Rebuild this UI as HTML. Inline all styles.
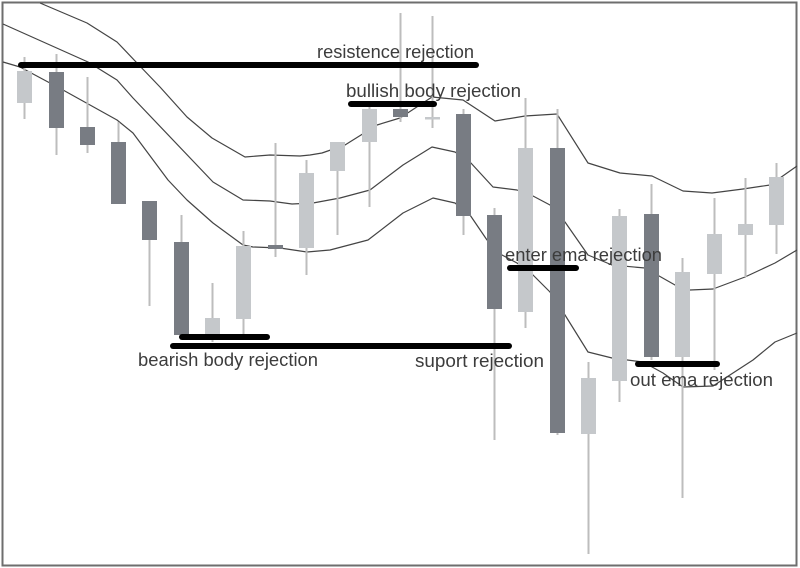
<!DOCTYPE html>
<html>
<head>
<meta charset="utf-8">
<style>
  html, body { margin:0; padding:0; background:#fff; }
  body { width:800px; height:568px; overflow:hidden; }
  svg { display:block; }
  text { font-family: "Liberation Sans", sans-serif; font-size:18px; fill:#3c3c3c; }
</style>
</head>
<body>
<svg width="800" height="568" viewBox="0 0 800 568" xmlns="http://www.w3.org/2000/svg">
  <rect x="0" y="0" width="800" height="568" fill="#fff"/>
  <rect x="2.5" y="2.5" width="794" height="563" fill="none" stroke="#6e6e6e" stroke-width="2"/>

  <!-- EMA lines -->
  <g fill="none" stroke="#444" stroke-width="1.2" stroke-linejoin="round">
    <polyline points="40,3 87,23 117,42 137,63 160,87 187,117 212,138 245,157 270,155 300,156 310,155 322,153 345,145 377,125 400,118 432,97 463,100 495,121 525,116 557,114 588,163 620,173 652,176 683,191 712,193 743,189 770,185 797,166"/>
    <polyline points="3,24 88,62 117,80 133,98 213,182 243,200 270,201 292,204 313,203 340,198 370,190 403,165 432,147 455,152 470,162 493,187 517,190 533,196 550,205 565,222 588,255 612,265 645,268 675,285 690,290 713,289 745,277 775,263 797,250"/>
    <polyline points="3,62 20,67 63,90 117,120 133,133 168,180 187,200 213,223 243,245 253,247 280,248 307,252 330,250 368,240 403,213 433,198 455,203 470,215 487,240 502,255 517,263 533,275 550,292 565,315 588,352 612,358 643,362 663,373 683,387 713,386 753,360 775,342 797,333"/>
  </g>

  <!-- wicks -->
  <g stroke="#bdbdbd" stroke-width="2">
    <line x1="24.5" y1="57" x2="24.5" y2="119"/>
    <line x1="56.5" y1="54" x2="56.5" y2="155"/>
    <line x1="87.5" y1="77" x2="87.5" y2="153"/>
    <line x1="118.5" y1="122" x2="118.5" y2="204"/>
    <line x1="149.5" y1="201" x2="149.5" y2="306"/>
    <line x1="181.5" y1="215" x2="181.5" y2="335"/>
    <line x1="212.5" y1="283" x2="212.5" y2="342"/>
    <line x1="243.5" y1="231" x2="243.5" y2="335"/>
    <line x1="275.5" y1="143" x2="275.5" y2="257"/>
    <line x1="306.5" y1="160" x2="306.5" y2="275"/>
    <line x1="337.5" y1="142" x2="337.5" y2="235"/>
    <line x1="369.5" y1="107" x2="369.5" y2="207"/>
    <line x1="400.5" y1="13" x2="400.5" y2="122"/>
    <line x1="432.5" y1="16" x2="432.5" y2="128"/>
    <line x1="463.5" y1="109" x2="463.5" y2="235"/>
    <line x1="494.5" y1="208" x2="494.5" y2="440"/>
    <line x1="525.5" y1="98" x2="525.5" y2="328"/>
    <line x1="557.5" y1="109" x2="557.5" y2="435"/>
    <line x1="588.5" y1="362" x2="588.5" y2="554"/>
    <line x1="619.5" y1="209" x2="619.5" y2="402"/>
    <line x1="651.5" y1="184" x2="651.5" y2="360"/>
    <line x1="682.5" y1="258" x2="682.5" y2="498"/>
    <line x1="714.5" y1="198" x2="714.5" y2="370"/>
    <line x1="745.5" y1="178" x2="745.5" y2="277"/>
    <line x1="776.5" y1="163" x2="776.5" y2="254"/>
  </g>

  <!-- bodies: light -->
  <g fill="#c5c8cb">
    <rect x="17" y="71" width="15" height="32"/>
    <rect x="205" y="318" width="15" height="17"/>
    <rect x="236" y="246" width="15" height="73"/>
    <rect x="299" y="173" width="15" height="75"/>
    <rect x="330" y="142" width="15" height="29"/>
    <rect x="362" y="109" width="15" height="33"/>
    <rect x="425" y="117" width="15" height="2.5"/>
    <rect x="518" y="148" width="15" height="164"/>
    <rect x="581" y="378" width="15" height="56"/>
    <rect x="612" y="216" width="15" height="165"/>
    <rect x="675" y="272" width="15" height="85"/>
    <rect x="707" y="234" width="15" height="40"/>
    <rect x="738" y="224" width="15" height="11"/>
    <rect x="769" y="177" width="15" height="48"/>
  </g>
  <!-- bodies: dark -->
  <g fill="#787c83">
    <rect x="49" y="72" width="15" height="56"/>
    <rect x="80" y="127" width="15" height="18"/>
    <rect x="111" y="142" width="15" height="62"/>
    <rect x="142" y="201" width="15" height="39"/>
    <rect x="174" y="242" width="15" height="93"/>
    <rect x="268" y="245" width="15" height="4"/>
    <rect x="393" y="109" width="15" height="8"/>
    <rect x="456" y="114" width="15" height="102"/>
    <rect x="487" y="215" width="15" height="94"/>
    <rect x="550" y="148" width="15" height="285"/>
    <rect x="644" y="214" width="15" height="143"/>
  </g>

  <!-- thick black levels -->
  <g stroke="#000" stroke-width="6" stroke-linecap="round">
    <line x1="21" y1="65" x2="476" y2="65"/>
    <line x1="351" y1="104" x2="434" y2="104"/>
    <line x1="182" y1="337" x2="267" y2="337"/>
    <line x1="173" y1="346" x2="509" y2="346"/>
    <line x1="510" y1="268" x2="576" y2="268"/>
    <line x1="638" y1="364" x2="717" y2="364"/>
  </g>

  <!-- labels -->
  <text x="317" y="58" textLength="157" lengthAdjust="spacingAndGlyphs">resistence rejection</text>
  <text x="346" y="97" textLength="175" lengthAdjust="spacingAndGlyphs">bullish body rejection</text>
  <text x="138" y="366" textLength="180" lengthAdjust="spacingAndGlyphs">bearish body rejection</text>
  <text x="415" y="367" textLength="129" lengthAdjust="spacingAndGlyphs">suport rejection</text>
  <text x="505" y="261" textLength="157" lengthAdjust="spacingAndGlyphs">enter ema rejection</text>
  <text x="630" y="386" textLength="143" lengthAdjust="spacingAndGlyphs">out ema rejection</text>
</svg>
</body>
</html>
